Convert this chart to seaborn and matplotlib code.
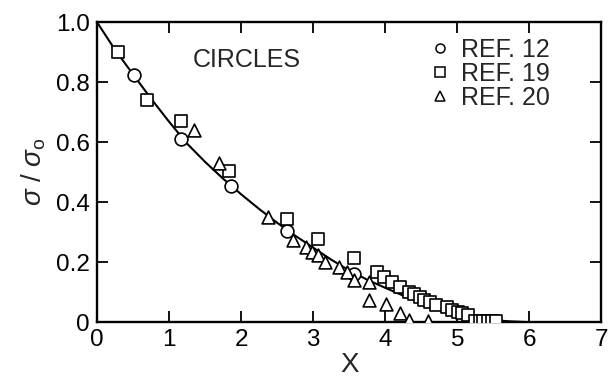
import matplotlib
matplotlib.use("Agg")
import matplotlib.pyplot as plt
import seaborn as sns
import pandas as pd
from matplotlib.lines import Line2D

# ---- data ----
ref12_x = [0.51, 1.17, 1.86, 2.63, 3.57]
ref12_y = [0.823, 0.610, 0.453, 0.305, 0.160]

ref19_x = [0.29, 0.69, 1.16, 1.83, 2.63, 3.07, 3.56, 3.89, 3.98, 4.09, 4.21, 4.33,
           4.40, 4.48, 4.54, 4.62, 4.71, 4.85, 4.92, 5.01, 5.07, 5.15,
           5.25, 5.31, 5.36, 5.42, 5.48, 5.54]
ref19_y = [0.900, 0.740, 0.670, 0.504, 0.344, 0.277, 0.214, 0.166, 0.151, 0.134, 0.118, 0.101,
           0.093, 0.084, 0.075, 0.066, 0.057, 0.049, 0.040, 0.034, 0.029, 0.022,
           0.004, 0.004, 0.004, 0.004, 0.004, 0.004]

ref20_x = [1.35, 1.69, 2.37, 2.72, 2.90, 2.98, 3.07, 3.17, 3.36, 3.47, 3.57, 3.78,
           3.78, 4.01, 4.21, 4.33, 4.59]
ref20_y = [0.642, 0.529, 0.351, 0.273, 0.251, 0.234, 0.223, 0.201, 0.184, 0.168, 0.140, 0.132,
           0.073, 0.059, 0.031, 0.007, 0.004]

curve_x = [0.0, 0.25, 0.5, 0.75, 1.0, 1.25, 1.5, 1.75, 2.0, 2.25, 2.5, 2.75, 3.0, 3.25,
           3.5, 3.75, 4.0, 4.25, 4.5, 4.75, 5.0, 5.25, 5.5, 5.75, 5.95]
curve_y = [1.0, 0.908, 0.826, 0.745, 0.668, 0.595, 0.534, 0.478, 0.426, 0.377, 0.331, 0.288,
           0.248, 0.208, 0.172, 0.141, 0.114, 0.088, 0.064, 0.042, 0.025, 0.013, 0.006, 0.002, 0.0]

legend_labels = ["REF. 12", "REF. 19", "REF. 20"]
x_ticks = [0, 1, 2, 3, 4, 5, 6, 7]
y_ticks = [0, 0.2, 0.4, 0.6, 0.8, 1.0]
y_ticklabels = ["0", "0.2", "0.4", "0.6", "0.8", "1.0"]

# ---- plot ----
sns.set_theme(style="ticks")
plt.rcParams["font.family"] = ["Liberation Sans", "DejaVu Sans"]
plt.rcParams["mathtext.fontset"] = "custom"
plt.rcParams["mathtext.rm"] = "Liberation Sans"
plt.rcParams["mathtext.it"] = "Liberation Sans:italic"

fig = plt.figure(figsize=(6.10, 3.82), dpi=100)
ax = fig.add_axes([0.159, 0.157, 0.827, 0.785])

curve_df = pd.DataFrame({"x": curve_x, "y": curve_y})
sns.lineplot(data=curve_df, x="x", y="y", ax=ax, color="black", lw=1.5,
             sort=False, estimator=None, legend=False, zorder=2)

df12 = pd.DataFrame({"x": ref12_x, "y": ref12_y})
df19 = pd.DataFrame({"x": ref19_x, "y": ref19_y})
df20 = pd.DataFrame({"x": ref20_x, "y": ref20_y})

common = dict(facecolor="white", edgecolor="black", linewidth=1.2, zorder=3, legend=False)
sns.scatterplot(data=df12, x="x", y="y", marker="o", s=85, ax=ax, **common)
sns.scatterplot(data=df19, x="x", y="y", marker="s", s=66, ax=ax, **common)
sns.scatterplot(data=df20, x="x", y="y", marker="^", s=85, ax=ax, **common)

ax.set_xlim(0, 7)
ax.set_ylim(0, 1.0)
ax.set_xticks(x_ticks)
ax.set_yticks(y_ticks)
ax.set_yticklabels(y_ticklabels)
ax.tick_params(direction="in", length=8, width=1.3, top=True, right=True,
               labelsize=17.5, colors="black", pad=5)
for sp in ax.spines.values():
    sp.set_linewidth(1.7)
    sp.set_color("black")

ax.set_xlabel("X", fontsize=20, labelpad=1)
ax.set_ylabel(r"$\sigma\ /\ \sigma_{\rm o}$", fontsize=20, labelpad=6)

ax.text(2.08, 0.873, "CIRCLES", fontsize=18, ha="center", va="center")

handles = [Line2D([], [], marker=m, ls="none", mfc="white", mec="black", ms=6.5, mew=1.1)
           for m in ["o", "s", "^"]]
ax.legend(handles, legend_labels, loc="upper left", bbox_to_anchor=(0.645, 0.965),
          frameon=False, fontsize=18, handletextpad=0.35, labelspacing=0.0,
          handlelength=1.0, borderaxespad=0.0, borderpad=0.2)

fig.savefig("out.png", dpi=100)
